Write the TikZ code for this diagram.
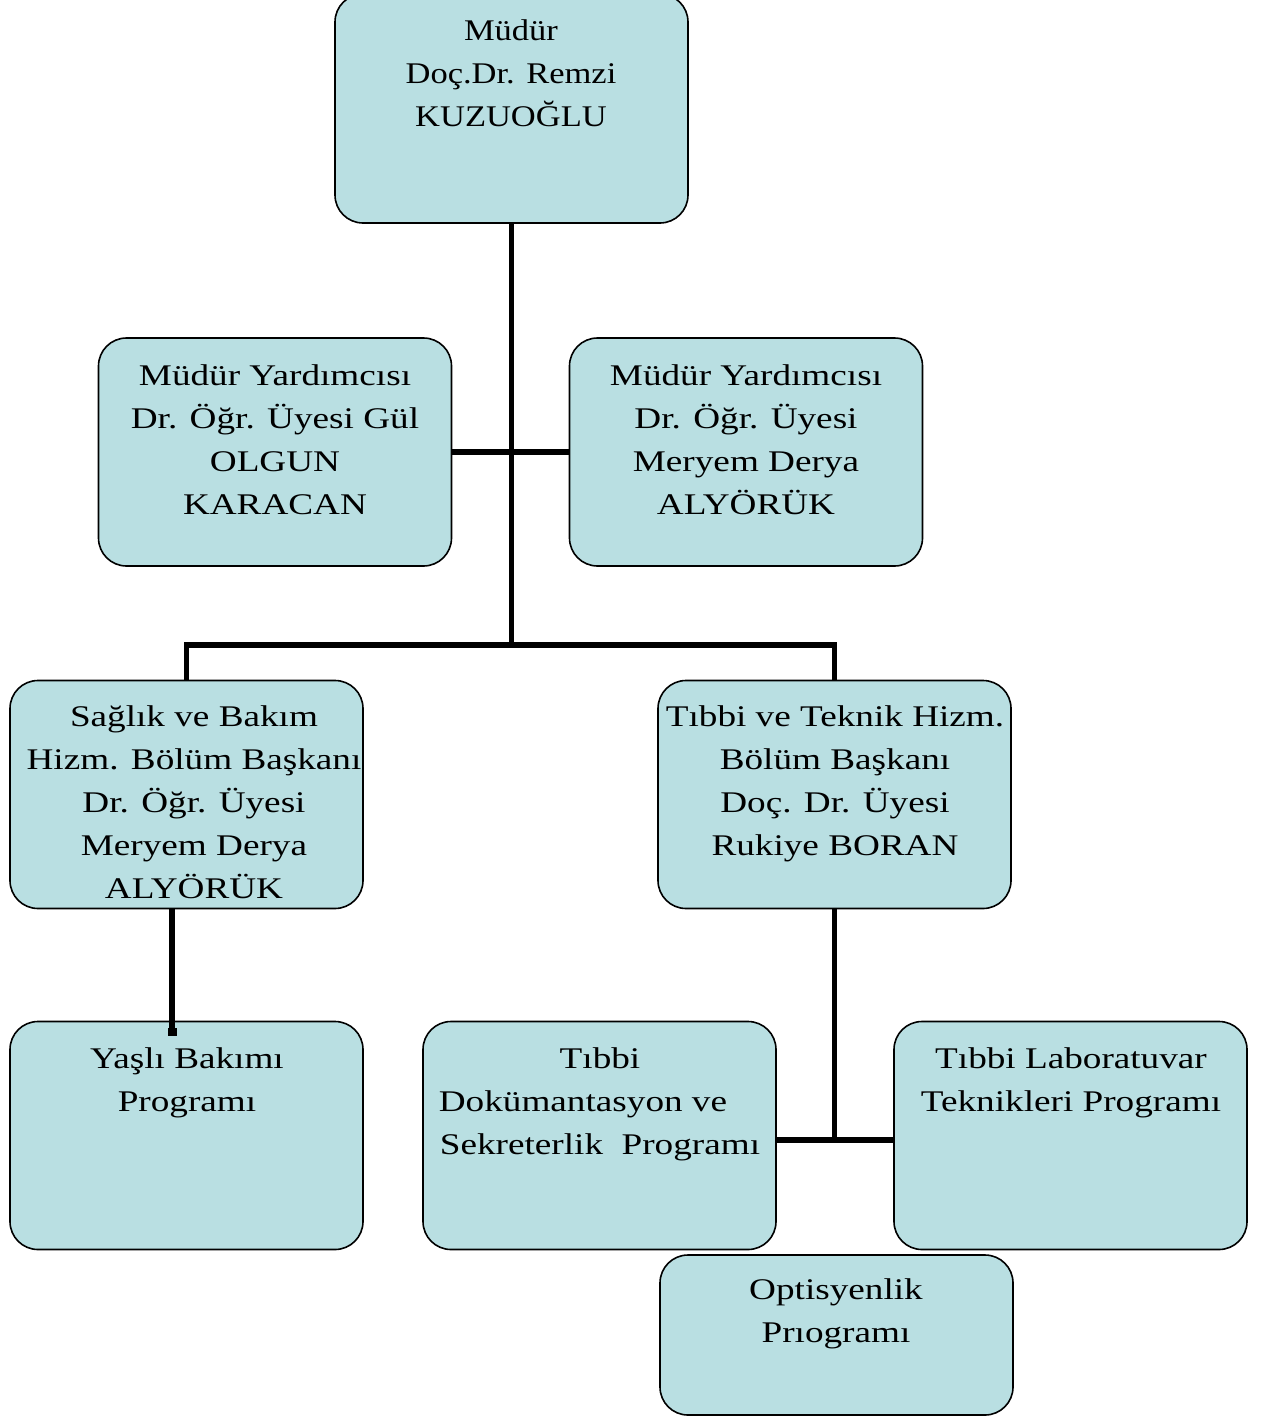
\documentclass[tikz,border=0pt]{standalone}
\usepackage{fontspec}
\setmainfont{Liberation Serif}[FakeStretch=1.24]
\newfontfamily\narrowserif{Liberation Serif}[FakeStretch=1.15]
\definecolor{boxblue}{RGB}{185,223,226}
\newcommand{\fl}{\rule{0pt}{30pt}}
\begin{document}
\begin{tikzpicture}[x=1pt,y=-1pt,
  box/.style={draw, line width=1.6pt, fill=boxblue, rounded corners=28pt,
    minimum width=353pt, minimum height=228pt, inner sep=0pt},
  txt/.style={align=center, font=\fontsize{30}{43}\selectfont, anchor=north, inner sep=0pt},
  conn/.style={line width=5.5pt}]
\useasboundingbox (0,0) rectangle (1270,1416);
% boxes
\node[box, minimum height=229pt] (m) at (511.5,108.5) {};
\node[box] (vl) at (275,452) {};
\node[box] (vr) at (746,452) {};
\node[box] (sb) at (186.5,794.5) {};
\node[box] (tt) at (834.5,794.5) {};
\node[box] (ya) at (186.5,1135.5) {};
\node[box] (td) at (599.5,1135.5) {};
\node[box] (tl) at (1070.5,1135.5) {};
\node[box, minimum height=160pt] (op) at (836.5,1335) {};
% texts (anchor north = first baseline - 30)
\node[txt, font=\fontsize{30}{43}\narrowserif] (mt) at (511,10) {\fl Müdür\\Doç.Dr. Remzi\\KUZUOĞLU};
\node[txt] (vlt) at (275,355) {\fl Müdür Yardımcısı\\Dr. Öğr. Üyesi Gül\\OLGUN\\KARACAN};
\node[txt] (vrt) at (746,355) {\fl Müdür Yardımcısı\\Dr. Öğr. Üyesi\\Meryem Derya\\ALYÖRÜK};
\node[txt] (sbt) at (194,696) {\fl Sağlık ve Bakım\\Hizm. Bölüm Başkanı\\Dr. Öğr. Üyesi\\Meryem Derya\\ALYÖRÜK};
\node[txt] (ttt) at (835,696) {\fl Tıbbi ve Teknik Hizm.\\Bölüm Başkanı\\Doç. Dr. Üyesi\\Rukiye BORAN};
\node[txt] (yat) at (187,1038) {\fl Yaşlı Bakımı\\Programı};
\node[txt] (tdt) at (600,1038) {\fl Tıbbi\\Dokümantasyon ve\rule{34pt}{0pt}\\Sekreterlik\ \ Programı};
\node[txt] (tlt) at (1071,1038) {\fl Tıbbi Laboratuvar\\Teknikleri Programı};
\node[txt] (opt) at (836,1269) {\fl Optisyenlik\\Prıogramı};
% connectors
\coordinate (j1) at (511.5,645);
\coordinate (ye) at (172,1032);
\coordinate (j2) at (834.5,1140);
\draw[conn] (m.south) -- (j1);
\draw[conn] (vl.east) -- (vr.west);
\draw[conn] (sb.north) |- (j1) -| (tt.north);
\draw[conn] (sb.south -| ye) -- (ye);
\fill (ye) +(-4.5,-4) rectangle +(4.5,4);
\draw[conn] (tt.south) -- (j2);
\draw[conn] (td.east |- j2) -- (tl.west |- j2);
\end{tikzpicture}
\end{document}
